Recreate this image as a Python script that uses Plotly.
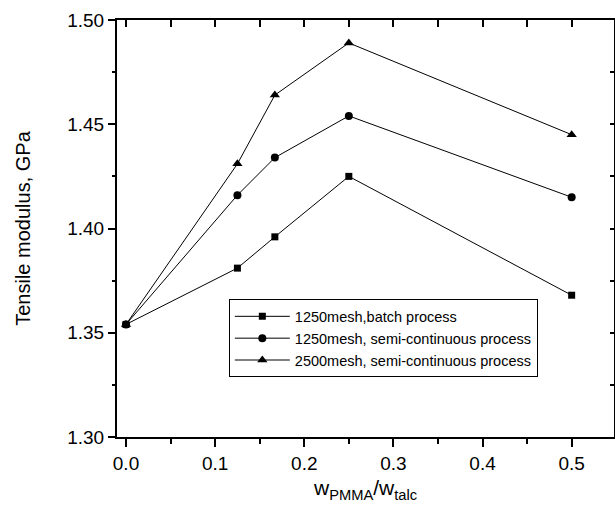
import plotly.graph_objects as go

x_vals = [0.0, 0.125, 0.167, 0.25, 0.5]
batch_1250 = [1.354, 1.381, 1.396, 1.425, 1.368]
semi_1250 = [1.354, 1.416, 1.434, 1.454, 1.415]
semi_2500 = [1.354, 1.431, 1.464, 1.489, 1.445]
names = ["1250mesh,batch process",
         "1250mesh, semi-continuous process",
         "2500mesh, semi-continuous process"]
x_ticks = [0.0, 0.1, 0.2, 0.3, 0.4, 0.5]
y_ticks = [1.30, 1.35, 1.40, 1.45, 1.50]

XR = [-0.0101, 0.5475]
YR = [1.30, 1.50]
FONT = "Arial, Liberation Sans, sans-serif"

fig = go.Figure()
for ys, nm, sym, sz in [(batch_1250, names[0], "square", 7),
                        (semi_1250, names[1], "circle", 8),
                        (semi_2500, names[2], "triangle-up", 9)]:
    fig.add_trace(go.Scatter(x=x_vals, y=ys, name=nm, mode="lines+markers",
                             line=dict(color="black", width=1),
                             marker=dict(symbol=sym, size=sz, color="black")))
# helper empty trace to realise the mirror axes
fig.add_trace(go.Scatter(x=[], y=[], xaxis="x2", yaxis="y2", showlegend=False))

fig.update_layout(
    width=615, height=511,
    margin=dict(l=117, r=1, t=20, b=74),
    paper_bgcolor="white", plot_bgcolor="white",
    font=dict(family=FONT, color="black"),
    showlegend=True,
    legend=dict(x=0.225, y=0.33, xanchor="left", yanchor="top",
                bordercolor="black", borderwidth=1, bgcolor="white",
                itemwidth=55,
                font=dict(size=14.5, family=FONT), tracegroupgap=0),
    xaxis=dict(range=XR, tickvals=x_ticks, ticktext=[f"{v:.1f}" for v in x_ticks],
               ticks="outside", ticklen=8, tickwidth=2, tickcolor="black",
               showline=True, linewidth=2, linecolor="black", showgrid=False,
               zeroline=False, tickfont=dict(size=19),
               minor=dict(dtick=0.05, tick0=0, ticks="outside", ticklen=5,
                          tickwidth=2, tickcolor="black", showgrid=False),
               title=dict(text="w<sub>PMMA</sub>/w<sub>talc</sub>",
                          font=dict(size=21), standoff=8)),
    yaxis=dict(range=YR, tickvals=y_ticks, ticktext=[f"{v:.2f}" for v in y_ticks],
               ticks="outside", ticklen=7, tickwidth=2, tickcolor="black",
               showline=True, linewidth=2, linecolor="black", showgrid=False,
               zeroline=False, tickfont=dict(size=19),
               minor=dict(dtick=0.025, tick0=1.30, ticks="outside", ticklen=3,
                          tickwidth=2, tickcolor="black", showgrid=False),
               title=dict(text="Tensile modulus, GPa", font=dict(size=20),
                          standoff=31)),
    xaxis2=dict(range=XR, overlaying="x", side="top", anchor="y",
                dtick=0.05, tick0=0, ticks="inside", ticklen=7, tickwidth=2,
                tickcolor="black", showticklabels=False, showline=True,
                linewidth=2, linecolor="black", showgrid=False, zeroline=False),
    yaxis2=dict(range=YR, overlaying="y", side="right", anchor="x",
                dtick=0.025, tick0=1.30, ticks="inside", ticklen=4, tickwidth=2,
                tickcolor="black", showticklabels=False, showline=True,
                linewidth=1.5, linecolor="black", showgrid=False, zeroline=False),
)
fig.write_html("out.html")
